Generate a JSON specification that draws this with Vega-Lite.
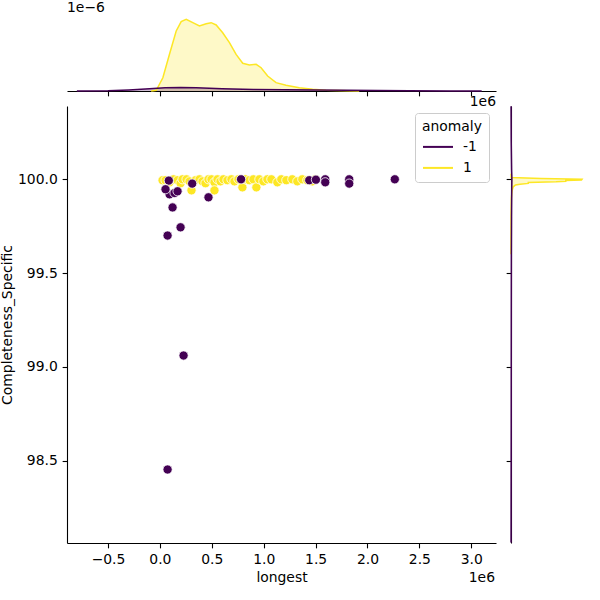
{
  "$schema": "https://vega.github.io/schema/vega-lite/v6.json",
  "padding": {"left": 0, "top": 1, "right": 5, "bottom": 5},
  "background": "white",
  "bounds": "flush",
  "spacing": 15,
  "config": {
    "font": "DejaVu Sans",
    "view": {"stroke": null},
    "axis": {
      "grid": false, "domainColor": "black", "domainWidth": 1.1, "tickColor": "black", "tickWidth": 1.1,
      "tickSize": 4.86, "labelPadding": 4.86, "labelFontSize": 13.9, "labelColor": "black",
      "titleFontSize": 13.9, "titleFontWeight": "normal", "titleColor": "black",
      "labelFont": "DejaVu Sans", "titleFont": "DejaVu Sans", "labelFlush": false, "labelOverlap": false
    },
    "legend": {
      "titleFontSize": 13.9, "titleFontWeight": "normal", "titleColor": "black", "labelFontSize": 13.9, "labelColor": "black",
      "titleFont": "DejaVu Sans", "labelFont": "DejaVu Sans"
    }
  },
  "resolve": {"legend": {"color": "independent"}},
  "vconcat": [
    {
      "width": 429, "height": 75,
      "title": {"text": "1e−6", "anchor": "start", "fontSize": 13.9, "fontWeight": "normal", "offset": 1, "font": "DejaVu Sans", "color": "black"},
      "layer": [
        {
          "data": {"values": [
            {"longest": -84000, "density": 0, "anomaly": 1},
            {"longest": -35000, "density": 0.01e-6, "anomaly": 1},
            {"longest": 28500, "density": 0.185e-6, "anomaly": 1},
            {"longest": 93000, "density": 0.516e-6, "anomaly": 1},
            {"longest": 157000, "density": 0.837e-6, "anomaly": 1},
            {"longest": 205000, "density": 0.967e-6, "anomaly": 1},
            {"longest": 253500, "density": 1.0e-6, "anomaly": 1},
            {"longest": 317000, "density": 0.953e-6, "anomaly": 1},
            {"longest": 381000, "density": 0.907e-6, "anomaly": 1},
            {"longest": 446000, "density": 0.939e-6, "anomaly": 1},
            {"longest": 494000, "density": 0.953e-6, "anomaly": 1},
            {"longest": 542000, "density": 0.921e-6, "anomaly": 1},
            {"longest": 605000, "density": 0.813e-6, "anomaly": 1},
            {"longest": 670000, "density": 0.674e-6, "anomaly": 1},
            {"longest": 734000, "density": 0.51e-6, "anomaly": 1},
            {"longest": 798000, "density": 0.386e-6, "anomaly": 1},
            {"longest": 862000, "density": 0.363e-6, "anomaly": 1},
            {"longest": 927000, "density": 0.372e-6, "anomaly": 1},
            {"longest": 975000, "density": 0.325e-6, "anomaly": 1},
            {"longest": 1038000, "density": 0.209e-6, "anomaly": 1},
            {"longest": 1119000, "density": 0.116e-6, "anomaly": 1},
            {"longest": 1215000, "density": 0.079e-6, "anomaly": 1},
            {"longest": 1343000, "density": 0.046e-6, "anomaly": 1},
            {"longest": 1471000, "density": 0.024e-6, "anomaly": 1},
            {"longest": 1600000, "density": 0.01e-6, "anomaly": 1},
            {"longest": 1920000, "density": 0, "anomaly": 1},
            {"longest": -800000, "density": 0, "anomaly": -1},
            {"longest": -500000, "density": 0.004e-6, "anomaly": -1},
            {"longest": -300000, "density": 0.015e-6, "anomaly": -1},
            {"longest": -100000, "density": 0.03e-6, "anomaly": -1},
            {"longest": 50000, "density": 0.045e-6, "anomaly": -1},
            {"longest": 200000, "density": 0.05e-6, "anomaly": -1},
            {"longest": 350000, "density": 0.045e-6, "anomaly": -1},
            {"longest": 600000, "density": 0.03e-6, "anomaly": -1},
            {"longest": 900000, "density": 0.02e-6, "anomaly": -1},
            {"longest": 1200000, "density": 0.017e-6, "anomaly": -1},
            {"longest": 1500000, "density": 0.015e-6, "anomaly": -1},
            {"longest": 1800000, "density": 0.012e-6, "anomaly": -1},
            {"longest": 2100000, "density": 0.007e-6, "anomaly": -1},
            {"longest": 2400000, "density": 0.003e-6, "anomaly": -1},
            {"longest": 2800000, "density": 0.001e-6, "anomaly": -1},
            {"longest": 3100000, "density": 0, "anomaly": -1}
          ]},
          "encoding": {
            "x": {"field": "longest", "type": "quantitative", "scale": {"domain": [-895000, 3238000], "nice": false, "zero": false},
                  "axis": {"values": [-500000, 0, 500000, 1000000, 1500000, 2000000, 2500000, 3000000], "labels": false, "title": null}},
            "y": {"field": "density", "type": "quantitative", "stack": null, "scale": {"domain": [0, 1.046e-6], "nice": false}, "axis": null},
            "color": {"field": "anomaly", "type": "nominal", "scale": {"domain": [-1, 1], "range": ["#440154", "#fde725"]}, "legend": null},
            "order": {"field": "anomaly", "type": "quantitative", "sort": "descending"}
          },
          "layer": [
            {"mark": {"type": "area", "fillOpacity": 0.25}},
            {"mark": {"type": "line", "strokeWidth": 1.5}}
          ]
        },
        {
          "data": {"values": [{"label": "1e6"}]},
          "mark": {"type": "text", "align": "right", "baseline": "top", "dy": 4, "fontSize": 13.9, "color": "black", "font": "DejaVu Sans"},
          "encoding": {
            "x": {"datum": 3238000, "type": "quantitative"},
            "y": {"datum": 0, "type": "quantitative"},
            "text": {"field": "label", "type": "nominal"}
          }
        }
      ]
    },
    {
      "bounds": "flush",
      "spacing": 15,
      "resolve": {"legend": {"color": "independent"}},
      "hconcat": [
        {
          "width": 429, "height": 437,
          "layer": [
            {
              "data": {"values": [
                {"longest": 25615, "Completeness_Specific": 99.995, "anomaly": 1},
                {"longest": 54462, "Completeness_Specific": 99.995, "anomaly": 1},
                {"longest": 92923, "Completeness_Specific": 99.984, "anomaly": 1},
                {"longest": 131385, "Completeness_Specific": 100.0, "anomaly": 1},
                {"longest": 169846, "Completeness_Specific": 99.995, "anomaly": 1},
                {"longest": 198692, "Completeness_Specific": 99.979, "anomaly": 1},
                {"longest": 217923, "Completeness_Specific": 100.0, "anomaly": 1},
                {"longest": 256385, "Completeness_Specific": 100.0, "anomaly": 1},
                {"longest": 285231, "Completeness_Specific": 99.989, "anomaly": 1},
                {"longest": 304462, "Completeness_Specific": 99.941, "anomaly": 1},
                {"longest": 342923, "Completeness_Specific": 99.995, "anomaly": 1},
                {"longest": 381385, "Completeness_Specific": 100.0, "anomaly": 1},
                {"longest": 410231, "Completeness_Specific": 99.989, "anomaly": 1},
                {"longest": 439077, "Completeness_Specific": 99.979, "anomaly": 1},
                {"longest": 467923, "Completeness_Specific": 100.0, "anomaly": 1},
                {"longest": 496769, "Completeness_Specific": 100.0, "anomaly": 1},
                {"longest": 525615, "Completeness_Specific": 99.984, "anomaly": 1},
                {"longest": 525615, "Completeness_Specific": 99.941, "anomaly": 1},
                {"longest": 554462, "Completeness_Specific": 100.0, "anomaly": 1},
                {"longest": 583308, "Completeness_Specific": 99.989, "anomaly": 1},
                {"longest": 612154, "Completeness_Specific": 100.0, "anomaly": 1},
                {"longest": 650615, "Completeness_Specific": 99.995, "anomaly": 1},
                {"longest": 689077, "Completeness_Specific": 100.0, "anomaly": 1},
                {"longest": 717923, "Completeness_Specific": 99.989, "anomaly": 1},
                {"longest": 756385, "Completeness_Specific": 100.0, "anomaly": 1},
                {"longest": 794846, "Completeness_Specific": 99.957, "anomaly": 1},
                {"longest": 823692, "Completeness_Specific": 100.0, "anomaly": 1},
                {"longest": 862154, "Completeness_Specific": 99.995, "anomaly": 1},
                {"longest": 900615, "Completeness_Specific": 100.0, "anomaly": 1},
                {"longest": 929462, "Completeness_Specific": 99.957, "anomaly": 1},
                {"longest": 958308, "Completeness_Specific": 100.0, "anomaly": 1},
                {"longest": 996769, "Completeness_Specific": 99.989, "anomaly": 1},
                {"longest": 1035231, "Completeness_Specific": 100.0, "anomaly": 1},
                {"longest": 1073692, "Completeness_Specific": 100.0, "anomaly": 1},
                {"longest": 1131385, "Completeness_Specific": 99.984, "anomaly": 1},
                {"longest": 1169846, "Completeness_Specific": 100.0, "anomaly": 1},
                {"longest": 1217923, "Completeness_Specific": 99.995, "anomaly": 1},
                {"longest": 1275615, "Completeness_Specific": 100.0, "anomaly": 1},
                {"longest": 1323692, "Completeness_Specific": 99.989, "anomaly": 1},
                {"longest": 1371769, "Completeness_Specific": 100.0, "anomaly": 1},
                {"longest": 1419846, "Completeness_Specific": 99.995, "anomaly": 1},
                {"longest": 1467923, "Completeness_Specific": 99.989, "anomaly": 1},
                {"longest": 1496769, "Completeness_Specific": 100.0, "anomaly": 1},
                {"longest": 86000, "Completeness_Specific": 99.993, "anomaly": -1},
                {"longest": 93000, "Completeness_Specific": 99.92, "anomaly": -1},
                {"longest": 54000, "Completeness_Specific": 99.947, "anomaly": -1},
                {"longest": 141000, "Completeness_Specific": 99.927, "anomaly": -1},
                {"longest": 170000, "Completeness_Specific": 99.936, "anomaly": -1},
                {"longest": 122000, "Completeness_Specific": 99.85, "anomaly": -1},
                {"longest": 74000, "Completeness_Specific": 99.70, "anomaly": -1},
                {"longest": 199000, "Completeness_Specific": 99.744, "anomaly": -1},
                {"longest": 228000, "Completeness_Specific": 99.06, "anomaly": -1},
                {"longest": 74000, "Completeness_Specific": 98.452, "anomaly": -1},
                {"longest": 311000, "Completeness_Specific": 99.977, "anomaly": -1},
                {"longest": 468000, "Completeness_Specific": 99.904, "anomaly": -1},
                {"longest": 782000, "Completeness_Specific": 100.0, "anomaly": -1},
                {"longest": 1439000, "Completeness_Specific": 99.995, "anomaly": -1},
                {"longest": 1503000, "Completeness_Specific": 99.998, "anomaly": -1},
                {"longest": 1593000, "Completeness_Specific": 100.0, "anomaly": -1},
                {"longest": 1593000, "Completeness_Specific": 99.984, "anomaly": -1},
                {"longest": 1824000, "Completeness_Specific": 100.0, "anomaly": -1},
                {"longest": 1824000, "Completeness_Specific": 99.977, "anomaly": -1},
                {"longest": 2263000, "Completeness_Specific": 100.0, "anomaly": -1}
              ]},
              "mark": {"type": "point", "filled": true, "size": 85, "stroke": "white", "strokeWidth": 0.8, "opacity": 1, "strokeOpacity": 1, "fillOpacity": 1},
              "encoding": {
                "x": {"field": "longest", "type": "quantitative", "scale": {"domain": [-895000, 3238000], "nice": false, "zero": false},
                      "axis": {"values": [-500000, 0, 500000, 1000000, 1500000, 2000000, 2500000, 3000000], "labelExpr": "format(datum.value / 1000000, '.1f')", "title": "longest", "titlePadding": 4}},
                "y": {"field": "Completeness_Specific", "type": "quantitative", "scale": {"domain": [98.06, 100.391], "nice": false, "zero": false},
                      "axis": {"values": [98.5, 99.0, 99.5, 100.0], "format": ".1f", "title": "Completeness_Specific", "titlePadding": 3}},
                "color": {"field": "anomaly", "type": "nominal", "scale": {"domain": [-1, 1], "range": ["#440154", "#fde725"]},
                          "legend": {"title": "anomaly", "orient": "top-right", "offset": 7, "symbolType": "M-1,0H2", "symbolSize": 400, "symbolStrokeWidth": 2,
                                     "symbolStrokeColor": {"expr": "datum.value === -1 ? '#440154' : '#fde725'"},
                                     "strokeColor": "#cccccc", "fillColor": "white", "padding": 7, "cornerRadius": 3, "titlePadding": 2, "rowPadding": 3, "labelOffset": 19}}
              }
            },
            {
              "data": {"values": [{"label": "1e6"}]},
              "mark": {"type": "text", "align": "right", "baseline": "middle", "dy": 35, "dx": -1, "fontSize": 13.9, "color": "black", "font": "DejaVu Sans"},
              "encoding": {
                "x": {"datum": 3238000, "type": "quantitative"},
                "y": {"datum": 98.06, "type": "quantitative"},
                "text": {"field": "label", "type": "nominal"}
              }
            }
          ]
        },
        {
          "width": 75, "height": 437,
          "data": {"values": [
            {"Completeness_Specific": 100.03, "density": 0, "anomaly": 1},
            {"Completeness_Specific": 100.01, "density": 0.3, "anomaly": 1},
            {"Completeness_Specific": 100.004, "density": 40, "anomaly": 1},
            {"Completeness_Specific": 100.0, "density": 94.7, "anomaly": 1},
            {"Completeness_Specific": 99.996, "density": 94, "anomaly": 1},
            {"Completeness_Specific": 99.994, "density": 73, "anomaly": 1},
            {"Completeness_Specific": 99.99, "density": 73, "anomaly": 1},
            {"Completeness_Specific": 99.987, "density": 60, "anomaly": 1},
            {"Completeness_Specific": 99.983, "density": 23, "anomaly": 1},
            {"Completeness_Specific": 99.978, "density": 23, "anomaly": 1},
            {"Completeness_Specific": 99.974, "density": 12, "anomaly": 1},
            {"Completeness_Specific": 99.97, "density": 6, "anomaly": 1},
            {"Completeness_Specific": 99.96, "density": 3, "anomaly": 1},
            {"Completeness_Specific": 99.94, "density": 1.5, "anomaly": 1},
            {"Completeness_Specific": 99.9, "density": 0.5, "anomaly": 1},
            {"Completeness_Specific": 99.8, "density": 0.1, "anomaly": 1},
            {"Completeness_Specific": 99.6, "density": 0, "anomaly": 1},
            {"Completeness_Specific": 100.39, "density": 0.1, "anomaly": -1},
            {"Completeness_Specific": 100.2, "density": 0.3, "anomaly": -1},
            {"Completeness_Specific": 100.05, "density": 0.8, "anomaly": -1},
            {"Completeness_Specific": 100.0, "density": 1.2, "anomaly": -1},
            {"Completeness_Specific": 99.95, "density": 1.0, "anomaly": -1},
            {"Completeness_Specific": 99.8, "density": 0.7, "anomaly": -1},
            {"Completeness_Specific": 99.6, "density": 0.5, "anomaly": -1},
            {"Completeness_Specific": 99.3, "density": 0.4, "anomaly": -1},
            {"Completeness_Specific": 99.0, "density": 0.35, "anomaly": -1},
            {"Completeness_Specific": 98.7, "density": 0.3, "anomaly": -1},
            {"Completeness_Specific": 98.4, "density": 0.2, "anomaly": -1},
            {"Completeness_Specific": 98.062, "density": 0.1, "anomaly": -1}
          ]},
          "encoding": {
            "y": {"field": "Completeness_Specific", "type": "quantitative", "scale": {"domain": [98.06, 100.391], "nice": false, "zero": false},
                  "axis": {"values": [98.5, 99.0, 99.5, 100.0], "labels": false, "title": null}},
            "x": {"field": "density", "type": "quantitative", "stack": null, "scale": {"domain": [0, 100], "nice": false}, "axis": null},
            "color": {"field": "anomaly", "type": "nominal", "scale": {"domain": [-1, 1], "range": ["#440154", "#fde725"]}, "legend": null}
          },
          "layer": [
            {"mark": {"type": "area", "orient": "horizontal", "fillOpacity": 0.25}},
            {"mark": {"type": "line", "strokeWidth": 1.5}, "encoding": {"order": {"field": "Completeness_Specific", "type": "quantitative"}}}
          ]
        }
      ]
    }
  ]
}
